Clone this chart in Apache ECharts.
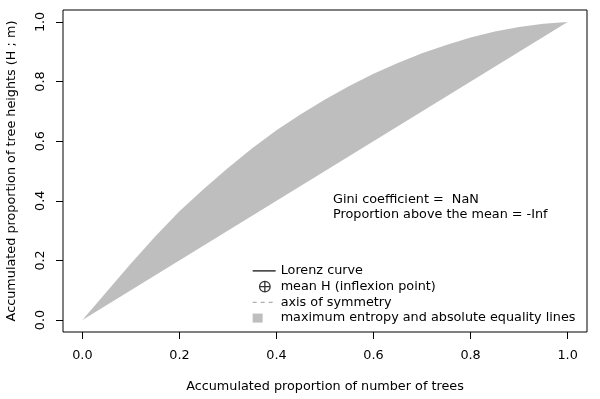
<!DOCTYPE html>
<html>
<head>
<meta charset="utf-8">
<script src="https://cdn.jsdelivr.net/npm/echarts@6/dist/echarts.min.js"></script>
<style>
  html, body { margin: 0; padding: 0; background: #fff; }
  #chart { width: 600px; height: 399px; }
</style>
</head>
<body>
<div id="chart"></div>
<script>
// 上边界曲线 (maximum entropy line)
const upperX = [0, 0.05, 0.1, 0.15, 0.2, 0.25, 0.3, 0.35, 0.4, 0.45, 0.5, 0.55, 0.6, 0.65, 0.7, 0.75, 0.8, 0.85, 0.9, 0.95, 1];
const upperY = [0, 0.095, 0.19, 0.28, 0.365, 0.44, 0.51, 0.576, 0.637, 0.69, 0.74, 0.785, 0.826, 0.862, 0.895, 0.923, 0.948, 0.968, 0.983, 0.994, 1];
// 下边界 (absolute equality line), 倒序走回原点
const lowerX = [1, 0];
const lowerY = [1, 0];

const tickValues = [0, 0.2, 0.4, 0.6, 0.8, 1.0];
const legendNames = [
	'Lorenz curve',
	'mean H (inflexion point)',
	'axis of symmetry',
	'maximum entropy and absolute equality lines'
];
const statLines = ['Gini coefficient =  NaN', 'Proportion above the mean = -Inf'];

const FONT = 'DejaVu Sans';
const FS = 12.8;

function makeAxis(name, isY) {
	return {
		type: 'value',
		min: -0.04,
		max: 1.04,
		name: name,
		nameLocation: 'middle',
		nameGap: isY ? 45 : 48,
		nameRotate: isY ? 90 : 0,
		nameTextStyle: { color: '#000', fontSize: FS, fontFamily: FONT },
		axisLine: { show: false, onZero: false },
		splitLine: { show: false },
		axisTick: {
			show: true,
			inside: false,
			customValues: tickValues,
			length: 7,
			lineStyle: { color: '#000', width: 1 }
		},
		axisLabel: {
			customValues: tickValues,
			formatter: v => v.toFixed(1),
			rotate: isY ? 90 : 0,
			margin: isY ? 16 : 17,
			color: '#000',
			fontSize: FS,
			fontFamily: FONT
		}
	};
}

const chart = echarts.init(document.getElementById('chart'), null, { renderer: 'canvas' });

const option = {
	animation: false,
	backgroundColor: '#fff',
	grid: {
		left: 63, right: 13, top: 10, bottom: 67,
		show: true,
		borderColor: '#000',
		borderWidth: 1,
		backgroundColor: 'transparent',
		outerBoundsMode: 'none'
	},
	title: {
		text: statLines.join('\n'),
		left: 333,
		top: 192.6,
		padding: 0,
		textStyle: { fontSize: FS, fontWeight: 'normal', color: '#000', fontFamily: FONT, lineHeight: 14.7 }
	},
	legend: {
		orient: 'vertical',
		left: 252,
		top: 264.3,
		padding: 0,
		itemWidth: 23,
		itemHeight: 12,
		itemGap: 2.5,
		selectedMode: false,
		textStyle: { fontSize: FS, color: '#000', fontFamily: FONT },
		data: [
			{
				name: legendNames[0],
				icon: 'path://M0,0M23,12M0,6H23',
				itemStyle: { color: 'rgba(0,0,0,0)', borderColor: '#000', borderWidth: 1.2 }
			},
			{
				name: legendNames[1],
				icon: 'path://M0,0M23,12M17.5,6A5.3,5.3,0,1,1,6.9,6A5.3,5.3,0,1,1,17.5,6ZM12.2,0.7V11.3M6.9,6H17.5',
				itemStyle: { color: 'rgba(0,0,0,0)', borderColor: '#000', borderWidth: 1.3 }
			},
			{
				name: legendNames[2],
				icon: 'path://M0,0M23,12M0,6H4M8,6H12M16,6H20',
				itemStyle: { color: 'rgba(0,0,0,0)', borderColor: '#B0B0B0', borderWidth: 1.3 }
			},
			{
				name: legendNames[3],
				icon: 'path://M0,0M23,12M0,1.5H10V10.5H0Z',
				itemStyle: { color: '#BEBEBE', borderWidth: 0 }
			}
		]
	},
	xAxis: makeAxis('Accumulated proportion of number of trees', false),
	yAxis: makeAxis('Accumulated proportion of tree heights (H ; m)', true),
	series: [
		{
			name: legendNames[0],
			type: 'line',
			data: [],
			symbol: 'none',
			itemStyle: { color: '#000' },
			lineStyle: { color: '#000', width: 1 }
		},
		{
			name: legendNames[1],
			type: 'scatter',
			data: [],
			itemStyle: { color: '#000' }
		},
		{
			name: legendNames[2],
			type: 'line',
			data: [],
			symbol: 'none',
			itemStyle: { color: '#BEBEBE' },
			lineStyle: { color: '#BEBEBE', width: 1, type: [4, 4] }
		},
		{
			name: legendNames[3],
			type: 'custom',
			data: [[0, 0]],
			itemStyle: { color: '#BEBEBE' },
			renderItem: function (params, api) {
				const pts = [];
				for (let i = 0; i < upperX.length; i++) pts.push(api.coord([upperX[i], upperY[i]]));
				for (let i = 0; i < lowerX.length; i++) pts.push(api.coord([lowerX[i], lowerY[i]]));
				return {
					type: 'polygon',
					shape: { points: pts },
					style: { fill: api.visual('color'), stroke: null }
				};
			}
		}
	]
};

chart.setOption(option);
</script>
</body>
</html>
